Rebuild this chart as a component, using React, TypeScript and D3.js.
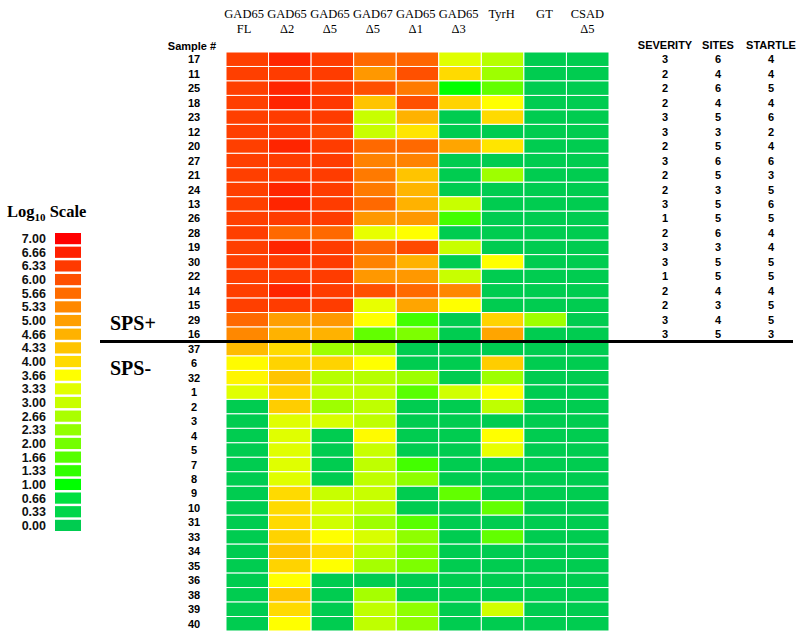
import React from "react";
import * as d3 from "d3";

const samples = ["17","11","25","18","23","12","20","27","21","24","13","26","28","19","30","22","14","15","29","16",
  "37","6","32","1","2","3","4","5","7","8","9","10","31","33","34","35","36","38","39","40"];

const headerLine1 = ["GAD65","GAD65","GAD65","GAD67","GAD65","GAD65","TyrH","GT","CSAD"];
const headerLine2 = ["FL","Δ2","Δ5","Δ5","Δ1","Δ3","","","Δ5"];

const gad65FL = [6.25,6.25,6.25,6.25,6.25,6.25,6.25,6.25,6.25,6.25,6.25,6.25,6.25,6.25,6.25,6.25,6.25,6.25,5.7,5.33,
  4.5,3.7,3.75,3.3,0,0,0,0,0,0,0,0,0,0,0,0,0,0,0,0];
const gad65D2 = [6.6,6.3,6.6,6.6,6.3,6.3,6.6,6.3,6.3,6.6,6.6,6.3,5.7,6.6,6.3,6.3,6.6,6.3,5.0,4.66,
  4.0,4.1,4.33,4.1,4.2,3.3,3.3,3.3,3.3,3.3,4.0,4.0,4.0,4.1,4.33,4.1,3.66,4.33,4.0,3.66];
const gad65D5 = [6.3,6.3,6.3,6.35,6.3,6.1,6.3,6.3,6.3,6.3,6.3,6.3,5.7,6.3,6.3,6.3,6.3,6.3,5.1,4.66,
  2.5,4.1,2.8,2.9,2.5,3.2,0,0,0,0,3.0,3.2,3.1,3.66,4.0,3.66,0,0,0,0];
const gad67D5 = [5.7,5.1,6.0,4.33,3.0,3.0,5.7,5.4,5.5,5.5,5.7,5.1,3.4,5.75,5.4,5.1,6.0,3.4,3.66,1.8,
  2.5,3.66,2.8,2.9,2.9,2.9,3.7,3.0,2.9,2.9,3.0,2.9,2.5,3.2,2.9,2.6,0,2.6,2.9,2.9];
const gad65D1 = [5.75,6.0,5.5,6.0,4.66,3.9,5.7,5.4,4.33,4.6,4.66,5.1,3.66,6.1,4.66,5.1,5.7,4.9,1.5,2.1,
  0,0,2.5,1.7,0,0,0,0,1.5,2.3,0,0,1.7,2.3,2.1,2.1,0,0,2.3,2.3];
const gad65D3 = [3.3,4.0,1.0,4.1,0,0,4.9,0,0,0,3.0,1.5,0,3.0,0,3.0,5.33,3.66,0,0,
  0,0,0,3.1,0,0,0,0,0,0,1.8,0,0,0,0,0,0,0,0,0];
const tyrH = [2.8,2.5,1.8,3.66,4.0,0,3.9,0,2.5,0,0,0,0,0,3.66,0,0,0,4.1,4.9,
  0,4.2,2.5,3.66,2.9,0,3.66,3.4,0,0,0,1.8,0,1.8,0,0,0,0,3.1,0];
const gt = [0,0,0,0,0,0,0,0,0,0,0,0,0,0,0,0,0,0,2.5,0,
  0,0,0,0,0,0,0,0,0,0,0,0,0,0,0,0,0,0,0,0];
const csadD5 = [0,0,0,0,0,0,0,0,0,0,0,0,0,0,0,0,0,0,0,0,
  0,0,0,0,0,0,0,0,0,0,0,0,0,0,0,0,0,0,0,0];

const columnValues = [gad65FL, gad65D2, gad65D5, gad67D5, gad65D1, gad65D3, tyrH, gt, csadD5];

const severity = [3,2,2,2,3,3,2,3,2,2,3,1,2,3,3,1,2,2,3,3];
const sites = [6,4,6,4,5,3,5,6,5,3,5,5,6,3,5,5,4,3,4,5];
const startle = [4,4,5,4,6,2,4,6,3,5,6,5,4,4,5,5,4,5,5,3];
const clinicalHeaders = ["SEVERITY","SITES","STARTLE"];

const legendLabels = ["7.00","6.66","6.33","6.00","5.66","5.33","5.00","4.66","4.33","4.00","3.66","3.33","3.00","2.66","2.33","2.00","1.66","1.33","1.00","0.66","0.33","0.00"];
const legendColors = ["#ff0000","#ff2000","#ff3a00","#ff5000","#ff6c00","#ff8800","#ff9f00","#ffb200","#ffc400","#ffda00","#ffff00","#e2ff00","#c8ff00","#aaff00","#92ff00","#74ff00","#55ff00","#30ff00","#00ff00","#00e040","#00d64a","#00cc50"];

const groupLabels = ["SPS+", "SPS-"];

export default function App() {
  const W = 800, H = 638;
  const x = d3.scaleBand<number>().domain(d3.range(headerLine1.length)).range([226, 609]);
  const hx = d3.scalePoint<number>().domain(d3.range(headerLine1.length)).range([241, 587]);
  const y = d3.scaleBand<string>().domain(samples).range([52, 631]);
  const legendValues = legendLabels.map(Number);
  const color = d3.scaleLinear<string>().domain(legendValues).range(legendColors).interpolate(d3.interpolateRgb).clamp(true);
  const ly = d3.scaleBand<string>().domain(legendLabels).range([233, 531]).paddingInner(0.18);
  const cx = d3.scalePoint<string>().domain(clinicalHeaders).range([665, 771]);
  const sepY = y(samples[20])!;

  const sans = "'Liberation Sans', Arial, sans-serif";
  const serif = "'Liberation Serif', 'Times New Roman', serif";

  return (
    <svg width={W} height={H} style={{ position: "absolute", left: 0, top: 0, background: "#fff" }}>
      {headerLine1.map((t, i) => (
        <text key={"h1" + i} x={(hx(i)! + x(i)! + x.bandwidth() / 2) / 2} y={18} textAnchor="middle" fontFamily={serif} fontSize={12.5}>{t}</text>
      ))}
      {headerLine2.map((t, i) => (
        <text key={"h2" + i} x={(hx(i)! + x(i)! + x.bandwidth() / 2) / 2} y={33} textAnchor="middle" fontFamily={serif} fontSize={12.5}>{t}</text>
      ))}
      <text x={192} y={50} textAnchor="middle" fontFamily={sans} fontSize={11} fontWeight="bold">Sample #</text>

      {columnValues.map((vals, ci) =>
        vals.map((v, ri) => (
          <rect key={ci + "-" + ri} x={x(ci)!} y={y(samples[ri])!} width={x.bandwidth()} height={y.bandwidth()}
            fill={color(v)} stroke="#fff" strokeWidth={1} />
        ))
      )}

      {samples.map((s) => (
        <text key={"s" + s} x={194} y={y(s)! + y.bandwidth() / 2 + 4} textAnchor="middle" fontFamily={sans} fontSize={11} fontWeight="bold">{s}</text>
      ))}

      {clinicalHeaders.map((h) => (
        <text key={h} x={cx(h)!} y={49} textAnchor="middle" fontFamily={sans} fontSize={11} fontWeight="bold">{h}</text>
      ))}
      {[severity, sites, startle].map((arr, k) =>
        arr.map((v, ri) => (
          <text key={k + "v" + ri} x={cx(clinicalHeaders[k])!} y={y(samples[ri])! + y.bandwidth() / 2 + 4} textAnchor="middle"
            fontFamily={sans} fontSize={11} fontWeight="bold">{v}</text>
        ))
      )}

      <line x1={100} x2={793} y1={sepY} y2={sepY} stroke="#000" strokeWidth={3} />
      <text x={110} y={330} fontFamily={serif} fontSize={20} fontWeight="bold">{groupLabels[0]}</text>
      <text x={110} y={375} fontFamily={serif} fontSize={20} fontWeight="bold">{groupLabels[1]}</text>

      <text x={7} y={217} fontFamily={serif} fontSize={16.5} fontWeight="bold">
        Log<tspan fontSize={11} dy={4}>10</tspan><tspan dy={-4}> Scale</tspan>
      </text>
      {legendLabels.map((l, i) => (
        <g key={"l" + l}>
          <rect x={55} y={ly(l)!} width={26} height={ly.bandwidth()} fill={legendColors[i]} />
          <text x={46} y={ly(l)! + ly.bandwidth() / 2 + 4.5} textAnchor="end" fontFamily={sans} fontSize={12.5} fontWeight="bold" fill="#111">{l}</text>
        </g>
      ))}
    </svg>
  );
}
